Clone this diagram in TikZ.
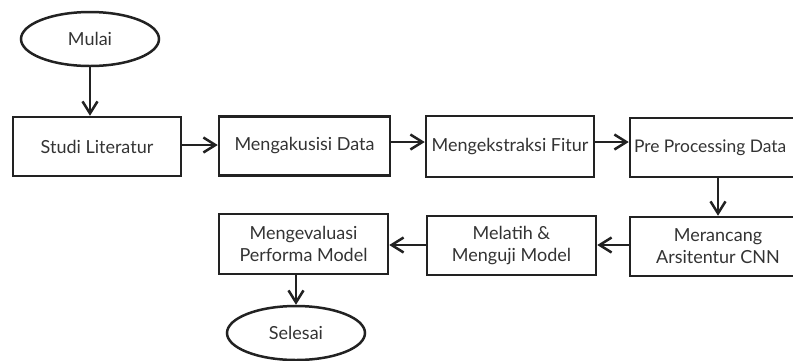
\documentclass[tikz,border=0pt]{standalone}
\usepackage{fontspec}
\setmainfont{Lato}
\usetikzlibrary{shapes.geometric,arrows.meta}
\definecolor{garis}{HTML}{222222}
\definecolor{teks}{HTML}{333333}
\begin{document}
\begin{tikzpicture}[x=1pt, y=-1pt,
    kotak/.style={draw=garis, line width=2.5pt, rectangle, minimum height=59pt,
        text=teks, font=\fontsize{18}{22}\selectfont, align=center, inner sep=1pt},
    oval/.style={draw=garis, line width=2.5pt, ellipse, minimum width=138pt,
        minimum height=54pt, text=teks, font=\fontsize{18}{22}\selectfont},
    panah/.style={draw=garis, line width=2.5pt, -{Straight Barb[length=12pt,width=15pt]}}]
    \clip (0,0) rectangle (793,360);
    \node[oval] (mulai) at (90,39) {Mulai};
    \node[kotak, minimum width=168pt] (studi)     at (97,146.5)  {Studi Literatur};
    \node[kotak, minimum width=171pt] (akuisisi)  at (304.5,146) {Mengakusisi Data};
    \node[kotak, minimum width=168pt, minimum height=61pt] (ekstraksi) at (510,146.5) {Mengekstraksi Fitur};
    \node[kotak, minimum width=176pt, text width=168pt, align=flush left,
        font=\fontsize{17.4}{22}\selectfont] (prepro) at (718,147.5) {Pre Processing Data};
    \node[kotak, minimum width=176pt] (merancang) at (718,246.5) {Merancang\\Arsitentur CNN};
    \node[kotak, minimum width=169pt] (melatih)   at (511.5,245.5) {Melatih \&\\Menguji Model};
    \node[kotak, minimum width=169pt, minimum height=60pt] (evaluasi) at (303.5,244) {Mengevaluasi\\Performa Model};
    \node[oval] (selesai) at (296,333) {Selesai};
    \draw[panah] (mulai) -- (mulai |- studi.north);
    \draw[panah] (studi.east |- 0,145) -- (akuisisi.west |- 0,145);
    \draw[panah] (akuisisi.east |- 0,142) -- (ekstraksi.west |- 0,142);
    \draw[panah] (ekstraksi.east |- 0,142) -- (prepro.west |- 0,142);
    \draw[panah] (prepro) -- (merancang);
    \draw[panah] (merancang.west |- 0,245) -- (melatih.east |- 0,245);
    \draw[panah] (melatih.west |- 0,245) -- (evaluasi.east |- 0,245);
    \draw[panah] (evaluasi.south -| selesai) -- (selesai);
\end{tikzpicture}
\end{document}
